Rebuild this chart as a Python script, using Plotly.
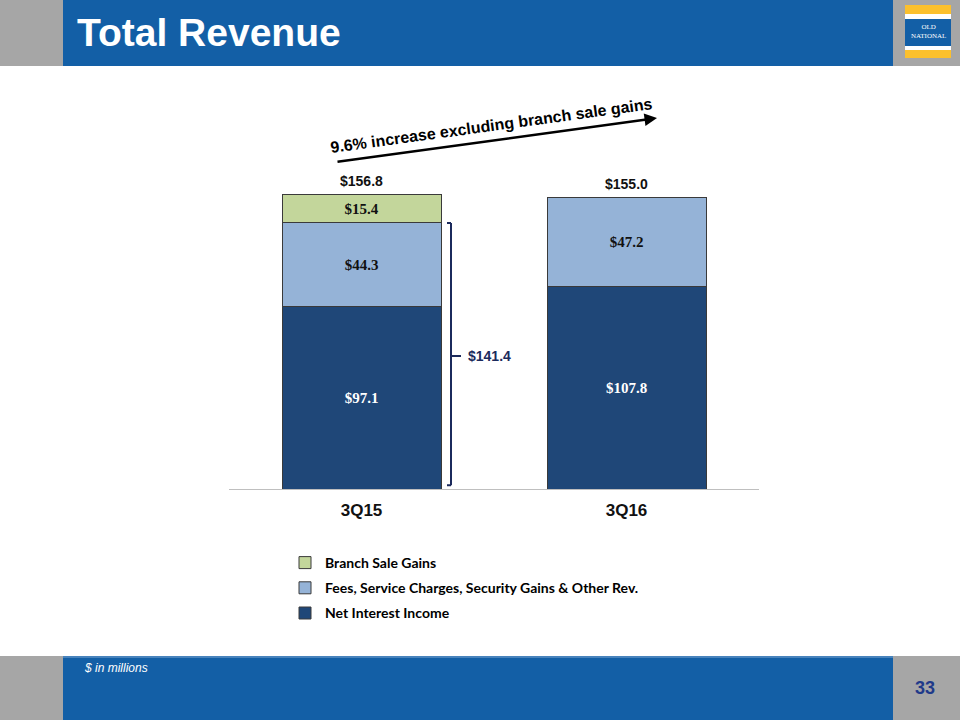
import plotly.graph_objects as go

categories = ["3Q15", "3Q16"]
net_interest = [97.1, 107.8]
fees = [44.3, 47.2]
branch_gains = [15.4, None]
totals = [156.8, 155.0]
bracket_total = 141.4

series_names = ["Net Interest Income",
                "Fees, Service Charges, Security Gains & Other Rev.",
                "Branch Sale Gains"]
series_colors = ["#1F4778", "#95B3D7", "#C3D69B"]
label_colors = ["white", "#111111", "#111111"]
legend_ranks = [3, 2, 1]

W, H = 960, 720
def px(x): return x / W
def py(y): return 1 - y / H

fig = go.Figure()
for i, (name, vals, col, lc) in enumerate(zip(series_names, [net_interest, fees, branch_gains],
                                              series_colors, label_colors)):
    fig.add_trace(go.Bar(
        x=categories, y=vals, name=f"<b>{name}</b>", legendgroup=f"g{i}",
        legendrank=legend_ranks[i],
        marker=dict(color=col, line=dict(color="#3a3a3a", width=1)),
        text=[f"<b>${v:.1f}</b>" if v is not None else "" for v in vals],
        textposition="inside", insidetextanchor="middle",
        textfont=dict(family="Liberation Serif", size=15, color=lc),
        hoverinfo="skip",
    ))

# totals
for c, t in zip(categories, totals):
    fig.add_annotation(x=c, y=t, xref="x", yref="y", text=f"<b>${t:.1f}</b>",
                       showarrow=False, xanchor="center", yanchor="bottom", yshift=3,
                       font=dict(family="Liberation Sans", size=14, color="#111111"))

shapes = []
# header & footer bands
shapes.append(dict(type="rect", xref="paper", yref="paper", x0=0, x1=1, y0=py(66), y1=1,
                   fillcolor="#A6A6A6", line_width=0, layer="below"))
shapes.append(dict(type="rect", xref="paper", yref="paper", x0=px(63), x1=px(893), y0=py(66), y1=1,
                   fillcolor="#135FA6", line_width=0, layer="below"))
shapes.append(dict(type="rect", xref="paper", yref="paper", x0=0, x1=1, y0=0, y1=py(656),
                   fillcolor="#A6A6A6", line_width=0, layer="below"))
shapes.append(dict(type="rect", xref="paper", yref="paper", x0=px(63), x1=px(893), y0=0, y1=py(656),
                   fillcolor="#135FA6", line_width=0, layer="below"))
shapes.append(dict(type="line", xref="paper", yref="paper", x0=px(63), x1=px(893), y0=py(657), y1=py(657),
                   line=dict(color="#7FA8D2", width=1)))
# logo
logo = [(5, 14, "#FBC02D"), (14, 19, "#FFFFFF"), (19, 46, "#135FA6"), (46, 50, "#FFFFFF"), (50, 58, "#FBC02D")]
for y0, y1, col in logo:
    shapes.append(dict(type="rect", xref="paper", yref="paper", x0=px(905), x1=px(951),
                       y0=py(y1), y1=py(y0), fillcolor=col, line_width=0))

# bracket
bx = px(451)
hook = 4 / W
bcol = "#1B2A5C"
shapes.append(dict(type="line", xref="paper", yref="y", x0=bx, x1=bx, y0=2, y1=bracket_total,
                   line=dict(color=bcol, width=2)))
shapes.append(dict(type="line", xref="paper", yref="y", x0=bx - hook, x1=bx, y0=bracket_total, y1=bracket_total,
                   line=dict(color=bcol, width=2)))
shapes.append(dict(type="line", xref="paper", yref="y", x0=bx - hook, x1=bx, y0=2, y1=2,
                   line=dict(color=bcol, width=2)))
shapes.append(dict(type="line", xref="paper", yref="y", x0=bx, x1=bx + 10 / W,
                   y0=bracket_total / 2, y1=bracket_total / 2, line=dict(color=bcol, width=2)))
fig.add_annotation(x=px(466), y=bracket_total / 2, xref="paper", yref="y",
                   text=f"<b>${bracket_total:.1f}</b>", showarrow=False,
                   xanchor="left", yanchor="middle",
                   font=dict(family="Liberation Sans", size=14, color="#1B2A5C"))

# growth arrow
fig.add_annotation(x=px(657), y=py(118), xref="paper", yref="paper",
                   ax=-321, ay=44, axref="pixel", ayref="pixel", text="",
                   showarrow=True, arrowhead=2, arrowsize=1, arrowwidth=2.5, arrowcolor="#000000")
fig.add_annotation(x=px(492), y=py(125), xref="paper", yref="paper",
                   text="<b>9.6% increase excluding branch sale gains</b>", showarrow=False,
                   xanchor="center", yanchor="middle",
                   textangle=-7.8, font=dict(family="Liberation Sans", size=16, color="#000000"))

# header / footer text
fig.add_annotation(x=px(75), y=py(33), xref="paper", yref="paper", xanchor="left", yanchor="middle",
                   text="<b>Total Revenue</b>", showarrow=False,
                   font=dict(family="Liberation Sans Narrow, Liberation Sans", size=39, color="white"))
fig.add_annotation(x=px(928), y=py(32), xref="paper", yref="paper", xanchor="center", yanchor="middle",
                   text="OLD<br>NATIONAL", showarrow=False,
                   font=dict(family="Liberation Serif", size=7, color="white"))
fig.add_annotation(x=px(82), y=py(668), xref="paper", yref="paper", xanchor="left", yanchor="middle",
                   text="<i>$ in millions</i>", showarrow=False,
                   font=dict(family="Liberation Sans", size=12, color="white"))
fig.add_annotation(x=px(925), y=py(688), xref="paper", yref="paper", xanchor="center", yanchor="middle",
                   text="<b>33</b>", showarrow=False,
                   font=dict(family="Liberation Sans Narrow, Liberation Sans", size=18, color="#1F3A8A"))

fig.update_layout(
    width=W, height=H, margin=dict(l=0, r=0, t=0, b=0),
    paper_bgcolor="white", plot_bgcolor="white",
    barmode="stack", bargap=0.4,
    showlegend=True,
    legend=dict(x=px(285), y=py(547), xanchor="left", yanchor="top",
                traceorder="grouped", tracegroupgap=4, bgcolor="rgba(0,0,0,0)",
                font=dict(family="Lato", size=14, color="#000000"), itemwidth=30),
    xaxis=dict(domain=[px(229), px(759)], showline=True, linecolor="#BFBFBF", linewidth=1,
               ticks="", ticklabelstandoff=6,
               tickfont=dict(family="Liberation Sans", size=17, color="#111111"),
               tickprefix="<b>", ticksuffix="</b>", fixedrange=True),
    yaxis=dict(domain=[py(489), py(188)], range=[0, 160], visible=False, fixedrange=True),
    shapes=shapes,
)

fig.write_html("out.html", config={"displayModeBar": False},
               post_script="document.body.style.margin='0';document.body.style.padding='0';document.body.style.overflow='hidden';")
